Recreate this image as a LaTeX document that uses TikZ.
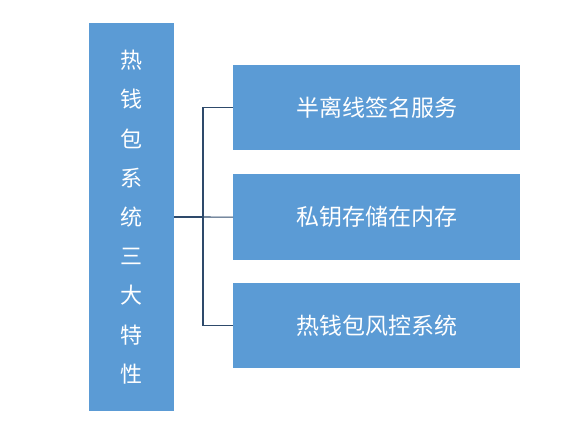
\documentclass[tikz,border=0pt]{standalone}
\usepackage{fontspec}
\newfontfamily\cjk{Noto Sans CJK SC}
\definecolor{boxblue}{HTML}{5B9BD5}
\definecolor{linec}{HTML}{2E4A6B}
\begin{document}
\begin{tikzpicture}[x=1pt,y=-1pt,
  bluebox/.style={fill=boxblue, draw=none, text=white, font=\cjk\fontsize{23}{27}\selectfont, inner sep=0pt, anchor=north west},
  conn/.style={draw=linec, line width=1.1pt}]
\useasboundingbox (0,0) rectangle (588,438);
\node[bluebox, minimum width=85pt, minimum height=388pt, align=center, font=\cjk\fontsize{22}{39.2}\selectfont] (main) at (89,23) {热\\钱\\包\\系\\统\\三\\大\\特\\性};
\node[bluebox, minimum width=287pt, minimum height=85pt] (a) at (233,65) {半离线签名服务};
\node[bluebox, minimum width=287pt, minimum height=86pt] (b) at (233,174) {私钥存储在内存};
\node[bluebox, minimum width=287pt, minimum height=85pt] (c) at (233,283) {热钱包风控系统};
\coordinate (j) at (203,217);
\draw[conn] (main.east |- j) -- (j);
\draw[conn] (a.west) -| (j) |- (c.west);
\draw[conn] (j) -- (b.west);
\end{tikzpicture}
\end{document}
